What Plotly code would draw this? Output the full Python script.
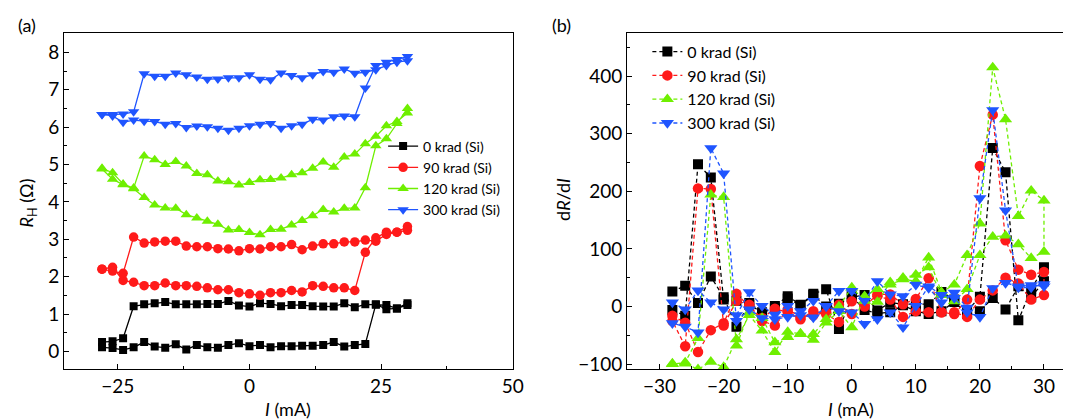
import plotly.graph_objects as go

# ---------------- data ----------------
current_mA = [-28, -26, -24, -22, -20, -18, -16, -14, -12, -10, -8, -6, -4, -2, 0,
              2, 4, 6, 8, 10, 12, 14, 16, 18, 20, 22, 24, 26, 28, 30]

series_names = ["0 krad (Si)", "90 krad (Si)", "120 krad (Si)", "300 krad (Si)"]

# (a) Hall resistance R_H (Ohm); forward sweep (-28 -> 30) and backward sweep, both listed by ascending current
rh_0_fwd = [0.11, 0.09, 0.04, 0.11, 0.25, 0.13, 0.10, 0.19, 0.05, 0.17, 0.11, 0.10, 0.17, 0.22, 0.14,
            0.17, 0.11, 0.14, 0.14, 0.15, 0.15, 0.17, 0.25, 0.13, 0.17, 0.20, 1.26, 1.13, 1.15, 1.24]
rh_0_bwd = [0.25, 0.27, 0.35, 1.21, 1.26, 1.29, 1.32, 1.26, 1.26, 1.26, 1.27, 1.27, 1.35, 1.23, 1.20,
            1.29, 1.27, 1.21, 1.24, 1.24, 1.21, 1.20, 1.20, 1.29, 1.18, 1.26, 1.25, 1.24, 1.15, 1.29]
rh_90_fwd = [2.20, 2.25, 1.90, 1.85, 1.76, 1.76, 1.83, 1.76, 1.76, 1.74, 1.70, 1.65, 1.65, 1.57, 1.54,
             1.50, 1.57, 1.57, 1.63, 1.59, 1.76, 1.74, 1.70, 1.70, 1.63, 2.65, 3.04, 3.19, 3.19, 3.34]
rh_90_bwd = [2.20, 2.15, 2.09, 3.06, 2.90, 2.93, 2.95, 2.95, 2.82, 2.80, 2.80, 2.75, 2.74, 2.69, 2.75,
             2.74, 2.80, 2.80, 2.86, 2.72, 2.82, 2.88, 2.88, 2.93, 2.93, 2.98, 2.95, 3.13, 3.19, 3.24]
rh_120_fwd = [4.88, 4.61, 4.46, 4.35, 4.12, 3.92, 3.84, 3.83, 3.66, 3.57, 3.48, 3.40, 3.25, 3.26, 3.18,
              3.12, 3.26, 3.27, 3.38, 3.50, 3.63, 3.80, 3.73, 3.83, 3.84, 4.38, 5.50, 5.69, 6.10, 6.50]
rh_120_bwd = [4.90, 4.78, 4.48, 4.37, 5.23, 5.13, 5.00, 5.08, 4.96, 4.76, 4.73, 4.56, 4.54, 4.45, 4.52,
              4.59, 4.60, 4.64, 4.73, 4.78, 4.90, 5.07, 4.93, 5.20, 5.28, 5.56, 5.76, 6.04, 6.15, 6.38]
rh_300_fwd = [6.34, 6.30, 6.13, 6.19, 6.16, 6.15, 6.08, 6.10, 5.99, 6.03, 6.01, 5.97, 5.92, 5.97, 6.04,
              6.08, 6.10, 5.97, 6.04, 6.08, 6.21, 6.19, 6.28, 6.30, 6.28, 7.05, 7.65, 7.74, 7.81, 7.89]
rh_300_bwd = [6.34, 6.34, 6.35, 6.41, 7.43, 7.36, 7.36, 7.45, 7.40, 7.34, 7.28, 7.29, 7.32, 7.32, 7.40,
              7.28, 7.27, 7.45, 7.38, 7.32, 7.40, 7.49, 7.47, 7.56, 7.44, 7.47, 7.54, 7.65, 7.74, 7.78]

# (b) dR/dI, forward and backward sweeps, by ascending current
d_0_fwd = [26, 36, 6, 52, 16, -35, 6, -13, 1, 18, 3, 22, 30, -39, 16,
           20, -7, 7, 4, 4, 4, 25, 12, -8, 17, 275, 233, -24, 30, 68]
d_0_bwd = [-6, -16, 247, 224, 12, 10, 3, -10, -3, 14, 2, 20, 0, 5, 18,
           -6, -12, -10, 2, -8, -13, -8, 8, -13, -8, 15, -5, 35, 16, 44]
d_90_fwd = [-16, -28, -79, -41, -29, 22, 0, -20, -4, -10, -22, -8, -13, -27, 9,
            0, 21, 21, 4, 13, 49, -10, -13, 12, 244, 333, 115, 64, 55, 60]
d_90_bwd = [-25, -69, 205, 204, -33, 10, 3, -25, -33, -5, -18, -15, -10, 3, -13,
            5, 18, 12, -18, -8, -10, -10, -10, -18, 12, 28, 50, 40, 12, 20]
d_120_fwd = [-99, -99, -109, -96, -105, -57, -15, -42, -79, -44, -47, -58, -28, -8, -36,
             18, 30, 38, 47, 44, 85, 25, 38, 89, 144, 415, 325, 157, 201, 184]
d_120_bwd = [-100, -97, -55, 194, 190, -68, -10, -20, -62, -53, -48, -48, -22, 0, 33,
             10, 8, 42, 50, 55, 68, 20, 9, 30, 89, 121, 123, 108, 84, 95]
d_300_fwd = [7, -5, 28, 7, -5, -15, 25, 1, -14, 1, -8, 10, 1, 27, 27,
             10, 44, 21, 18, 38, 32, 7, 24, -2, 188, 341, 167, 33, 33, 39]
d_300_bwd = [-29, -35, -45, 275, 231, -25, -5, -20, -22, -18, -15, -19, 0, -8, -10,
             -30, -22, -10, -36, 1, 35, 20, 15, -10, -18, 32, 41, 35, 37, 35]

left_x_ticks = [-25, 0, 25, 50]
left_y_ticks = [0, 1, 2, 3, 4, 5, 6, 7, 8]
right_x_ticks = [-30, -20, -10, 0, 10, 20, 30]
right_y_ticks = [-100, 0, 100, 200, 300, 400]

# ---------------- style ----------------
colors = ["#000000", "#ff1a1a", "#6fef00", "#1f55ff"]
symbols = ["square", "circle", "triangle-up", "triangle-down"]
left_sizes = [8, 9.5, 10, 10]
right_sizes = [10, 10.5, 11.5, 11.5]
FONT = "Lato"
TICK_SIZE = 19
W, H = 1071, 419

rh_fwd = [rh_0_fwd, rh_90_fwd, rh_120_fwd, rh_300_fwd]
rh_bwd = [rh_0_bwd, rh_90_bwd, rh_120_bwd, rh_300_bwd]
d_fwd = [d_0_fwd, d_90_fwd, d_120_fwd, d_300_fwd]
d_bwd = [d_0_bwd, d_90_bwd, d_120_bwd, d_300_bwd]

loop_x = current_mA + current_mA[::-1]

fig = go.Figure()
for i in range(4):
    fig.add_trace(go.Scatter(
        x=loop_x, y=rh_fwd[i] + rh_bwd[i][::-1], mode="lines+markers",
        name=series_names[i], xaxis="x", yaxis="y", legend="legend",
        line=dict(color=colors[i], width=1.3),
        marker=dict(symbol=symbols[i], size=left_sizes[i], color=colors[i], line=dict(width=0)),
    ))
for i in range(4):
    fig.add_trace(go.Scatter(
        x=loop_x, y=d_fwd[i] + d_bwd[i][::-1], mode="lines+markers",
        name=series_names[i], xaxis="x2", yaxis="y2", legend="legend2",
        line=dict(color=colors[i], width=1.3, dash="4px,3px"),
        marker=dict(symbol=symbols[i], size=right_sizes[i], color=colors[i], line=dict(width=0)),
    ))

def px_x(p):
    return p / W

def px_y(p):
    return (H - p) / H

axis_common = dict(
    showline=True, linecolor="black", linewidth=1.3, mirror=True,
    ticks="inside", ticklen=5, tickwidth=1.2, tickcolor="black",
    showgrid=False, zeroline=False,
    tickfont=dict(family=FONT, size=TICK_SIZE, color="black"),
)

def label(text, x, y, size=18, angle=0):
    return dict(text=text, x=px_x(x), y=px_y(y), xref="paper", yref="paper",
                xanchor="center", yanchor="middle", showarrow=False, textangle=angle,
                font=dict(family=FONT, size=size, color="black"))

fig.update_layout(
    width=W, height=H, margin=dict(l=0, r=0, t=0, b=0),
    paper_bgcolor="white", plot_bgcolor="white",
    font=dict(family=FONT, color="black"),
    xaxis=dict(axis_common, domain=[px_x(56.7), px_x(510)], range=[-35.2, 50],
               tickvals=left_x_ticks, anchor="y",
               minor=dict(tickvals=[-37.5, -12.5, 12.5, 37.5], ticks="inside", ticklen=3, tickcolor="black")),
    yaxis=dict(axis_common, domain=[px_y(365.7), px_y(25.7)], range=[-0.48, 8.51],
               tickvals=left_y_ticks, anchor="x",
               minor=dict(dtick=0.5, ticks="inside", ticklen=3, tickcolor="black")),
    xaxis2=dict(axis_common, domain=[px_x(625.7), 1.0], range=[-35.04, 33.75],
                tickvals=right_x_ticks, anchor="y2",
                minor=dict(dtick=5, ticks="inside", ticklen=3, tickcolor="black")),
    yaxis2=dict(axis_common, domain=[px_y(365.7), px_y(25.7)], range=[-109, 474],
                tickvals=right_y_ticks, anchor="x2", mirror=False,
                minor=dict(dtick=50, ticks="inside", ticklen=3, tickcolor="black")),
    legend=dict(x=px_x(379), y=px_y(124), xanchor="left", yanchor="top",
                bgcolor="rgba(0,0,0,0)", font=dict(family=FONT, size=14, color="black"),
                tracegroupgap=0),
    legend2=dict(x=px_x(646), y=px_y(27), xanchor="left", yanchor="top",
                 bgcolor="rgba(0,0,0,0)", font=dict(family=FONT, size=16, color="black"),
                 tracegroupgap=0),
    annotations=[
        label("(a)", 19, 17),
        label("(b)", 559, 17),
        label("<i>I</i> (mA)", 283, 406),
        label("<i>I</i> (mA)", 852, 406),
        label("<i>R</i><sub>H</sub> (Ω)", 20, 197, angle=-90),
        label("d<i>R</i>/d<i>I</i>", 560, 194, angle=-90),
    ],
)

fig.write_html("out.html")
